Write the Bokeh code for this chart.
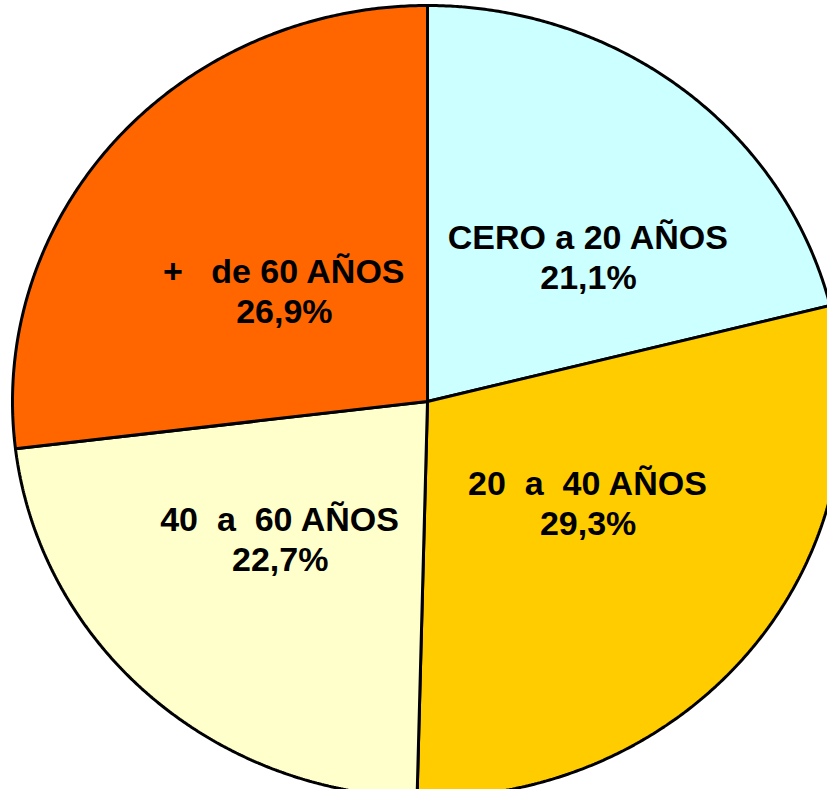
import numpy as np
from bokeh.plotting import figure
from bokeh.models import ColumnDataSource
from bokeh.core.properties import value
from bokeh.embed import file_html
from bokeh.resources import INLINE

NB = "\u00a0"

# ---- data ----
categories = ["CERO a 20 AÑOS", "20" + NB + " a" + NB + " 40 AÑOS",
              "40" + NB + " a" + NB + " 60 AÑOS", "+" + NB + NB + " de 60 AÑOS"]
shares = [21.1, 29.3, 22.7, 26.9]
pct_labels = ["21,1%", "29,3%", "22,7%", "26,9%"]
colors = ["#CCFFFF", "#FFCC00", "#FFFFCC", "#FF6600"]

# ---- label layout (radius as fraction of pie radius, angle nudge in degrees) ----
label_r = [0.533, 0.4635, 0.496, 0.443]
label_dang = [8.7, -5.3, 3.4, -2.7]

# ---- slices (angles clockwise from 12 o'clock) ----
total = sum(shares)
bounds = np.concatenate([[0], np.cumsum(shares)]) / total * 2 * np.pi
xs, ys = [], []
for a0, a1 in zip(bounds[:-1], bounds[1:]):
    t = np.linspace(a0, a1, 240)
    xs.append(np.concatenate([[0], np.sin(t), [0]]).tolist())
    ys.append(np.concatenate([[0], np.cos(t), [0]]).tolist())

mid = (bounds[:-1] + bounds[1:]) / 2 + np.radians(label_dang)
lx = (np.array(label_r) * np.sin(mid)).tolist()
ly = (np.array(label_r) * np.cos(mid)).tolist()

src = ColumnDataSource(dict(xs=xs, ys=ys, color=colors))
lsrc = ColumnDataSource(dict(x=lx, y=ly, cat=categories, pct=pct_labels))

W, H = 827, 789
rx_px, ry_px = 415.0, 396.0
cx_px, cy_px = 427, 401
x0 = -cx_px / rx_px
y1 = cy_px / ry_px

p = figure(width=W, height=H, output_backend="svg", toolbar_location=None,
           x_range=(x0, x0 + W / rx_px), y_range=(y1 - H / ry_px, y1),
           min_border=0, background_fill_color="white", border_fill_color="white")
p.axis.visible = False
p.grid.visible = False
p.outline_line_color = None

p.patches("xs", "ys", source=src, fill_color="color", line_color="black", line_width=3)

font = value("Liberation Sans")
p.text("x", "y", text="cat", source=lsrc, text_font=font, text_font_style="bold",
       text_font_size="34px", text_align="center", text_baseline="middle",
       text_color="black", y_offset=-20)
p.text("x", "y", text="pct", source=lsrc, text_font=font, text_font_style="bold",
       text_font_size="34px", text_align="center", text_baseline="middle",
       text_color="black", y_offset=20)

open("out.html", "w").write(file_html(p, INLINE))
